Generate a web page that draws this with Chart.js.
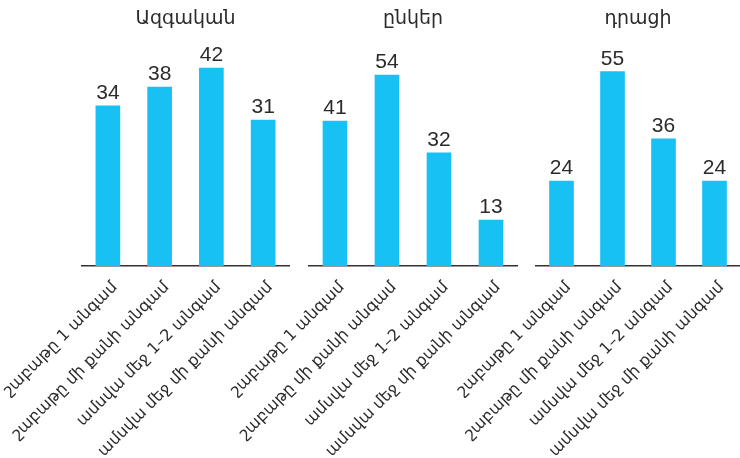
<!DOCTYPE html>
<html>
<head>
<meta charset="utf-8">
<script src="https://cdn.jsdelivr.net/npm/chart.js@4.4.1/dist/chart.umd.min.js"></script>
<style>
  html, body { margin: 0; padding: 0; background: #ffffff; }
  #wrap { position: relative; width: 740px; height: 458px; overflow: hidden; }
  #wrap canvas { position: absolute; left: 0; top: 0; }
</style>
</head>
<body>
<div id="wrap">
  <canvas id="c1" width="740" height="458"></canvas>
  <canvas id="c2" width="740" height="458"></canvas>
  <canvas id="c3" width="740" height="458"></canvas>
</div>
<script>
// ---- data ----
const categories = ['շաբաթը 1 անգամ', 'շաբաթը մի քանի անգամ', 'ամսվա մեջ 1–2 անգամ', 'ամսվա մեջ մի քանի անգամ'];
const panelTitles = ['Ազգական', 'ընկեր', 'դրացի'];
const relativeValues = [34, 38, 42, 31];
const friendValues = [41, 54, 32, 13];
const neighbourValues = [24, 55, 36, 24];
const panelYMax = [45, 60, 60];

// ---- style ----
const BAR_COLOR = '#17c1f3';
const TEXT_COLOR = '#2b2b2b';
const FONT = "'Liberation Sans', 'DejaVu Sans', sans-serif";
const ARM_FONT = "'DejaVu Sans', sans-serif";
const panelAreas = [ // chart-area left / right padding per panel
  { left: 82, right: 740 - 289 },
  { left: 309, right: 740 - 517 },
  { left: 536, right: 0 }
];
const AREA_TOP = 54, AREA_BOTTOM = 266, H = 458;

const valueLabels = {
  id: 'valueLabels',
  afterDatasetsDraw(chart) {
    const ctx = chart.ctx;
    const meta = chart.getDatasetMeta(0);
    const data = chart.data.datasets[0].data;
    ctx.save();
    ctx.font = '21px ' + FONT;
    ctx.fillStyle = TEXT_COLOR;
    ctx.textAlign = 'center';
    ctx.textBaseline = 'alphabetic';
    meta.data.forEach((bar, i) => {
      ctx.fillText(String(data[i]), bar.x, bar.y - 7);
    });
    ctx.restore();
  }
};

function makePanel(canvasId, title, values, yMax, area) {
  const titleFont = 19, titleLH = 1.2;
  const titleTop = 8;
  const titleBottom = AREA_TOP - titleTop - titleFont * titleLH;
  return new Chart(document.getElementById(canvasId), {
    type: 'bar',
    data: {
      labels: categories,
      datasets: [{
        data: values,
        backgroundColor: BAR_COLOR,
        borderWidth: 0,
        barThickness: 24
      }]
    },
    options: {
      responsive: false,
      animation: false,
      devicePixelRatio: 1,
      layout: { padding: { left: area.left, right: area.right, top: 0, bottom: 0 } },
      plugins: {
        legend: { display: false },
        tooltip: { enabled: false },
        title: {
          display: true,
          text: title,
          color: TEXT_COLOR,
          font: { family: ARM_FONT, size: titleFont, weight: 'normal', lineHeight: titleLH },
          padding: { top: titleTop, bottom: titleBottom }
        }
      },
      scales: {
        x: {
          type: 'category',
          offset: true,
          grid: { display: false },
          border: { display: true, color: '#333333', width: 1.5 },
          ticks: {
            autoSkip: false,
            maxRotation: 45,
            minRotation: 45,
            color: TEXT_COLOR,
            padding: 4,
            labelOffset: 7,
            font: { family: ARM_FONT, size: 16 }
          },
          afterFit(scale) {
            scale.paddingLeft = 0;
            scale.paddingRight = 0;
            scale.height = H - AREA_BOTTOM;
          }
        },
        y: {
          display: false,
          min: 0,
          max: yMax
        }
      }
    },
    plugins: [valueLabels]
  });
}

makePanel('c1', panelTitles[0], relativeValues, panelYMax[0], panelAreas[0]);
makePanel('c2', panelTitles[1], friendValues, panelYMax[1], panelAreas[1]);
makePanel('c3', panelTitles[2], neighbourValues, panelYMax[2], panelAreas[2]);
</script>
</body>
</html>
